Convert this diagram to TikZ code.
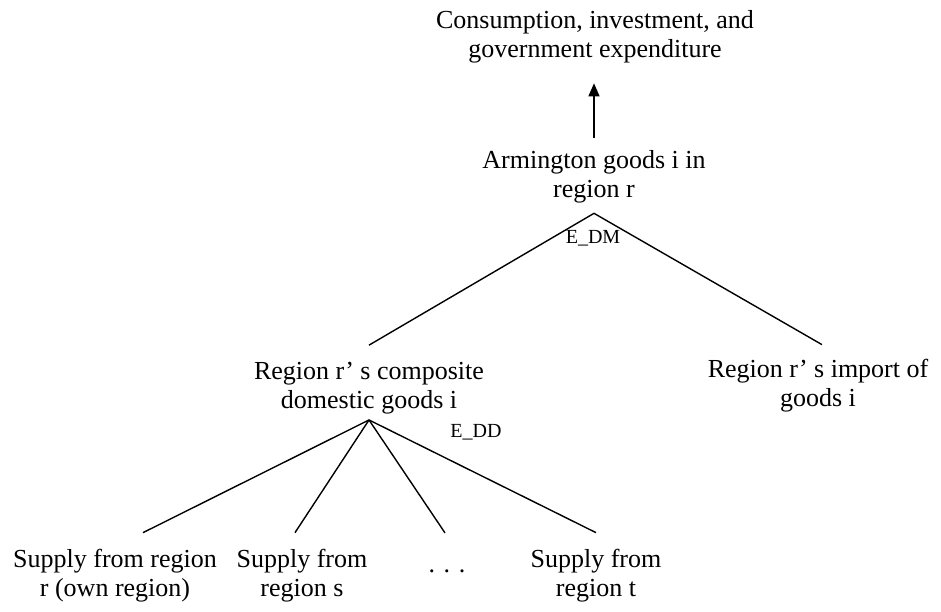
\documentclass[tikz,border=0pt]{standalone}
\usepackage{fontspec}
\setmainfont{Liberation Serif}
\usetikzlibrary{arrows.meta}
\tikzset{
  lbl/.style={align=center,inner sep=0pt,font=\fontsize{26}{29}\selectfont},
  elas/.style={inner sep=0pt,font=\fontsize{20}{24}\selectfont},
  branch/.style={line width=1.4pt},
  uparrow/.style={line width=1.4pt,-{Triangle[length=13pt,width=11pt]}}
}
\begin{document}
\begin{tikzpicture}[x=1pt,y=-1pt]
        \useasboundingbox (0,0) rectangle (941,612);
        \node[lbl] (cons) at (595,36.5) {Consumption, investment, and\\government expenditure};
        \node[lbl] (arm) at (594,176.5) {Armington goods i in\\region r};
        \node[lbl] (dom) at (369,388.5) {Region r’ s composite\\domestic goods i};
        \node[lbl] (imp) at (818,385.5) {Region r’ s import of\\goods i};
        \node[lbl] (sr) at (115,575.5) {Supply from region\\r (own region)};
        \node[lbl] (ss) at (302,575.5) {Supply from\\region s};
        \node[lbl,anchor=base] (sdots) at (447,572) {. . .};
        \node[lbl] (st) at (596,575.5) {Supply from\\region t};
        \node[elas] (edm) at (593,238) {E\_DM};
        \node[elas] (edd) at (476,432) {E\_DD};
        \draw[uparrow] ([yshift=12.2pt]arm.north) -- ([yshift=-20.3pt]arm.north |- cons.south);
        \draw[branch] ([yshift=17.2pt]dom.north) -- ([yshift=-10.3pt]arm.south) -- ([xshift=4pt,yshift=14.2pt]imp.north);
        \draw[branch] ([xshift=28pt,yshift=16.2pt]sr.north) -- ([yshift=-5.3pt]dom.south);
        \draw[branch] ([xshift=-7pt,yshift=16.2pt]ss.north) -- ([yshift=-5.3pt]dom.south);
        \draw[branch] ([xshift=-2pt,yshift=36.2pt]sdots.north) -- ([yshift=-5.3pt]dom.south);
        \draw[branch] ([yshift=16.2pt]st.north) -- ([yshift=-5.3pt]dom.south);
\end{tikzpicture}
\end{document}
